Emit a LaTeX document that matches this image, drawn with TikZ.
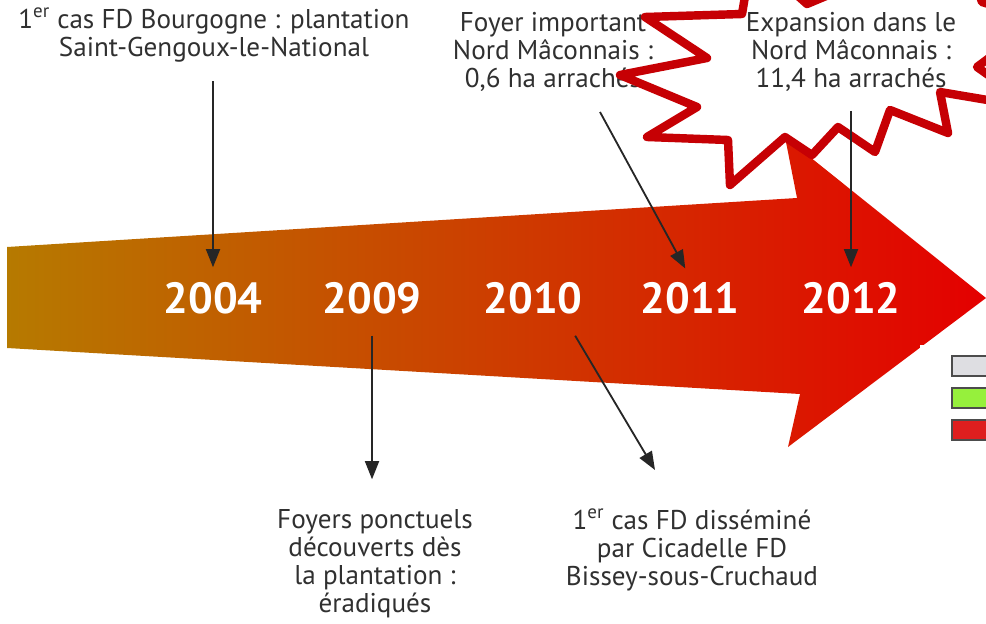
\documentclass[tikz,border=0pt]{standalone}
\usepackage{fontspec}
\setmainfont{PT Sans}
\usetikzlibrary{arrows.meta}
\definecolor{arrowL}{RGB}{182,122,0}
\definecolor{arrowM}{RGB}{212,62,12}
\definecolor{arrowR}{RGB}{228,0,0}
\definecolor{starRed}{RGB}{198,0,4}
\definecolor{noteGray}{RGB}{48,48,48}
\definecolor{keyGray}{RGB}{222,222,226}
\definecolor{keyGreen}{RGB}{150,240,60}
\definecolor{keyRed}{RGB}{222,30,30}

\begin{document}
\begin{tikzpicture}[x=0.025cm, y=-0.025cm,
  year/.style={text=white, font=\fontsize{31}{31}\selectfont\bfseries},
  note/.style={align=center, text=noteGray, font=\fontsize{19.3}{20}\selectfont},
  pointer/.style={-{Triangle[length=13pt,width=10pt]}, line width=1.3pt, black!85},
  key/.style={draw=black!70, line width=1pt}]

\useasboundingbox (0,0) rectangle (986,624);
\clip (0,0) rectangle (986,624);

\shade[left color=arrowL, middle color=arrowM, right color=arrowR]
  (7,247) -- (797,198) -- (785,137) -- (986,298) -- (788,447) -- (800,394) -- (7,348) -- cycle;

\fill[white] (920,345) rectangle (986,624);
\draw[key, fill=keyGray] (952,356) rectangle (996,376);
\draw[key, fill=keyGreen] (952,388) rectangle (996,408);
\draw[key, fill=keyRed] (952,420) rectangle (996,440);

\node[year] (y2004) at (213,298) {2004};
\node[year] (y2009) at (372,298) {2009};
\node[year] (y2010) at (533,298) {2010};
\node[year] (y2011) at (690,298) {2011};
\node[year] (y2012) at (851,298) {2012};

\node[note] (lbl1) at (214,35) {1\textsuperscript{er} cas FD Bourgogne : plantation\\Saint-Gengoux-le-National};
\node[note] (lbl2) at (553,52) {Foyer important\\Nord Mâconnais :\\0,6 ha arrachés};

\draw[starRed, line width=6pt, line join=round, fill=white]
  (752,-45) -- (742,14) -- (645,17) -- (707,58) -- (620,75) -- (697,107) -- (647,137)
  -- (728,140) -- (730,185) -- (785,137) -- (812,155) -- (838,127) -- (875,152)
  -- (890,110) -- (948,133) -- (940,92) -- (1035,108) -- (977,67) -- (1040,20)
  -- (982,2) -- (960,-60) -- (807,4) -- cycle;

\node[note] (lbl3) at (851,52) {Expansion dans le\\Nord Mâconnais :\\11,4 ha arrachés};
\node[note] (lbl4) at (375,564) {Foyers ponctuels\\découverts dès\\la plantation :\\éradiqués};
\node[note] (lbl5) at (692,550) {1\textsuperscript{er} cas FD disséminé\\par Cicadelle FD\\Bissey-sous-Cruchaud};

\coordinate (tail2) at (600,112);
\coordinate (tip5) at (655,470);
\draw[pointer, shorten <=10pt, shorten >=7pt] (y2004 |- lbl1.south) -- (y2004.north);
\draw[pointer, shorten >=7pt] (tail2) -- (y2011.north);
\draw[pointer, shorten <=10pt, shorten >=7pt] (y2012 |- lbl3.south) -- (y2012.north);
\draw[pointer, shorten <=12pt, shorten >=18pt] (y2009.south) -- (y2009 |- lbl4.north);
\draw[pointer, shorten <=14pt] (y2010.-33) -- (tip5);

\end{tikzpicture}
\end{document}
